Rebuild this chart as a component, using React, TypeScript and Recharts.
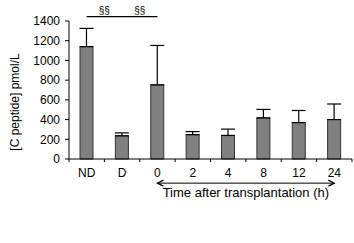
import React from 'react';
import { BarChart, Bar, XAxis, YAxis, ErrorBar, ReferenceLine, ReferenceDot } from 'recharts';

const categories = ['ND', 'D', '0', '2', '4', '8', '12', '24'];
const means = [1140, 235, 752, 247, 239, 417, 369, 400];
const sdUpper = [185, 30, 400, 31, 64, 86, 123, 158];
const yTicks = [0, 200, 400, 600, 800, 1000, 1200, 1400];
const sigBrackets = [
  { from: 'ND', to: 'D', label: '§§' },
  { from: 'D', to: '0', label: '§§' },
];
const sigLevel = 1445;
const arrowLevel = -245;
const arrowFrom = '0';
const arrowTo = '24';
const timeLabel = 'Time after transplantation (h)';

const data = categories.map((c, i) => ({ name: c, value: means[i], err: [0, sdUpper[i]] }));

const FONT = 'Liberation Sans, Arial, sans-serif';

const CatTick = (p: any) => {
  const off = (p.payload && p.payload.offset) || 0;
  const isLast = p.index === categories.length - 1;
  return (
    <g>
      <line x1={p.x - off} x2={p.x - off} y1={p.y} y2={p.y + 3} stroke="#000" strokeWidth={1} />
      {isLast && <line x1={p.x + off} x2={p.x + off} y1={p.y} y2={p.y + 3} stroke="#000" strokeWidth={1} />}
      <text x={p.x} y={p.y + 9} dy="0.71em" textAnchor="middle" fontFamily={FONT} fontSize={12} fill="#000">
        {p.payload.value}
      </text>
    </g>
  );
};

export default function App() {
  return (
    <div style={{ position: 'absolute', left: 0, top: 0, width: 354, height: 243, background: '#fff' }}>
      <BarChart
        width={354}
        height={243}
        data={data}
        margin={{ top: 21, right: 2, bottom: 54, left: 0 }}
        barCategoryGap={0}
      >
        <XAxis
          dataKey="name"
          tickLine={false}
          tickSize={0}
          tickMargin={0}
          axisLine={{ stroke: '#000' }}
          tick={CatTick}
          interval={0}
        />
        <YAxis
          width={69}
          domain={[0, 1400]}
          ticks={yTicks}
          interval={0}
          tickSize={4}
          tickMargin={5}
          axisLine={{ stroke: '#000' }}
          tickLine={{ stroke: '#000' }}
          tick={{ fill: '#000', fontSize: 12, fontFamily: FONT }}
          label={{
            value: '[C peptide] pmol/L',
            angle: -90,
            position: 'insideLeft',
            dx: 10,
            dy: 12,
            style: { fill: '#000', fontSize: 12, fontFamily: FONT, textAnchor: 'middle' },
          }}
        />
        <Bar
          dataKey="value"
          fill="#808080"
          stroke="#333"
          strokeWidth={1}
          barSize={13}
          isAnimationActive={false}
        >
          <ErrorBar dataKey="err" width={7} stroke="#000" strokeWidth={1.2} direction="y" />
        </Bar>
        {sigBrackets.map((s, i) => (
          <ReferenceLine
            key={'l' + i}
            segment={[{ x: s.from, y: sigLevel }, { x: s.to, y: sigLevel }]}
            stroke="#000"
            strokeWidth={1.2}
            ifOverflow="visible"
            label={{ value: s.label, position: 'top', offset: 3, fill: '#000', fontSize: 10, fontFamily: FONT }}
          />
        ))}
        <ReferenceLine
          key="arrowLine"
          segment={[{ x: arrowFrom, y: arrowLevel }, { x: arrowTo, y: arrowLevel }]}
          stroke="#000"
          strokeWidth={1}
          ifOverflow="visible"
          label={{ value: timeLabel, position: 'bottom', offset: 5, fill: '#000', fontSize: 13, fontFamily: FONT }}
        />
        <ReferenceDot
          key="arrowLeft"
          x={arrowFrom}
          y={arrowLevel}
          r={0}
          ifOverflow="visible"
          shape={(p: any) => (
            <path d={`M${p.cx + 6},${p.cy - 3} L${p.cx},${p.cy} L${p.cx + 6},${p.cy + 3}`} fill="none" stroke="#000" strokeWidth={1.2} />
          )}
        />
        <ReferenceDot
          key="arrowRight"
          x={arrowTo}
          y={arrowLevel}
          r={0}
          ifOverflow="visible"
          shape={(p: any) => (
            <path d={`M${p.cx - 6},${p.cy - 3} L${p.cx},${p.cy} L${p.cx - 6},${p.cy + 3}`} fill="none" stroke="#000" strokeWidth={1.2} />
          )}
        />
      </BarChart>
    </div>
  );
}
